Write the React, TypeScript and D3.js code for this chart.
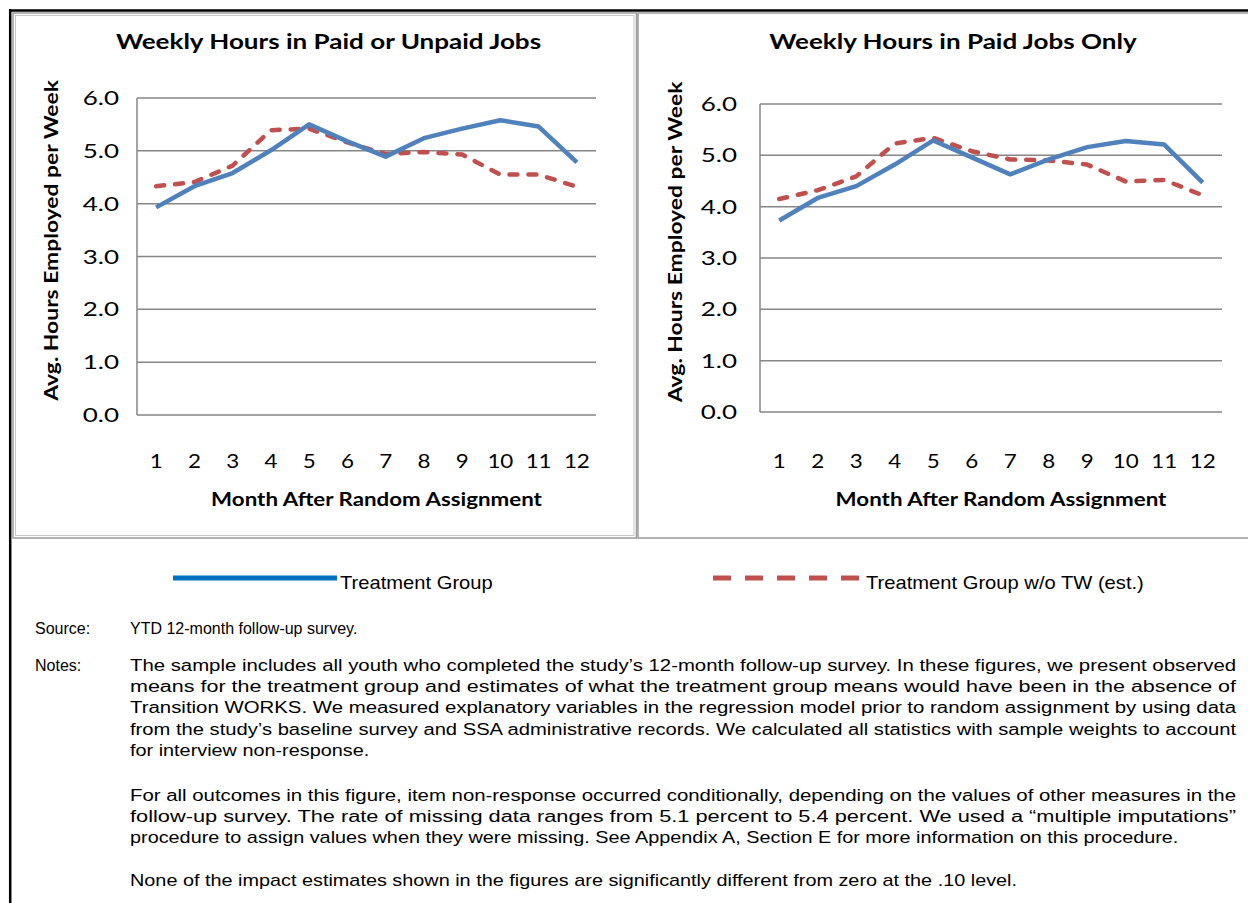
import * as d3 from "d3";
import type { ReactNode } from "react";

const months = ["1", "2", "3", "4", "5", "6", "7", "8", "9", "10", "11", "12"];
const yTicks = [0, 1, 2, 3, 4, 5, 6];

// Weekly hours in paid or unpaid jobs
const anyJobTreatment = [3.93, 4.33, 4.58, 5.01, 5.5, 5.18, 4.89, 5.24, 5.42, 5.58, 5.46, 4.78];
const anyJobNoTW = [4.33, 4.41, 4.72, 5.39, 5.42, 5.16, 4.94, 4.98, 4.93, 4.55, 4.55, 4.32];

// Weekly hours in paid jobs only
const paidJobTreatment = [3.73, 4.17, 4.4, 4.82, 5.29, 4.96, 4.63, 4.92, 5.16, 5.28, 5.21, 4.47];
const paidJobNoTW = [4.15, 4.32, 4.59, 5.23, 5.34, 5.08, 4.92, 4.9, 4.82, 4.49, 4.52, 4.22];

const seriesNames = ["Treatment Group", "Treatment Group w/o TW (est.)"];

const notesPara1 = [
  { text: "The sample includes all youth who completed the study\u2019s 12-month follow-up survey. In these figures, we present observed", justify: true },
  { text: "means for the treatment group and estimates of what the treatment group means would have been in the absence of", justify: true },
  { text: "Transition WORKS. We measured explanatory variables in the regression model prior to random assignment by using data", justify: true },
  { text: "from the study\u2019s baseline survey and SSA administrative records. We calculated all statistics with sample weights to account", justify: true },
  { text: "for interview non-response.", justify: false },
];
const notesPara2 = [
  { text: "For all outcomes in this figure, item non-response occurred conditionally, depending on the values of other measures in the", justify: true },
  { text: "follow-up survey. The rate of missing data ranges from 5.1 percent to 5.4 percent. We used a \u201cmultiple imputations\u201d", justify: true },
  { text: "procedure to assign values when they were missing. See Appendix A, Section E for more information on this procedure.", justify: false },
];
const notesPara3 = [
  { text: "None of the impact estimates shown in the figures are significantly different from zero at the .10 level.", justify: false },
];

const chartFont = "Lato, 'Open Sans', sans-serif";
const textFont = "'Liberation Sans', Arial, sans-serif";
const blue = "#4F81BD";
const red = "#C0504D";
const grid = "#868686";
const stretch = 1.24; // the source figure is drawn wider than tall

// text squeezed / widened horizontally around its anchor
function SText({
  x,
  y,
  sx = stretch,
  rotate = 0,
  anchor = "start",
  size,
  bold = false,
  font = chartFont,
  children,
}: {
  x: number;
  y: number;
  sx?: number;
  rotate?: number;
  anchor?: "start" | "middle" | "end";
  size: number;
  bold?: boolean;
  font?: string;
  children: ReactNode;
}) {
  return (
    <text
      transform={`translate(${x},${y}) rotate(${rotate}) scale(${sx},1)`}
      dy="0.35em"
      textAnchor={anchor}
      fontFamily={font}
      fontSize={size}
      fontWeight={bold ? "bold" : "normal"}
    >
      {children}
    </text>
  );
}

interface PanelProps {
  title: string;
  treatment: number[];
  noTW: number[];
  left: number;
  right: number;
  top: number;
  bottom: number;
  yLabelX: number;
  tickGap: number;
}

function Panel({ title, treatment, noTW, left, right, top, bottom, yLabelX, tickGap }: PanelProps) {
  const x = d3.scaleBand<string>().domain(months).range([left, right]);
  const y = d3.scaleLinear().domain([0, 6]).range([bottom, top]);
  const cx = (i: number) => (x(months[i]) ?? 0) + x.bandwidth() / 2;
  const line = d3
    .line<number>()
    .x((d, i) => cx(i))
    .y((d) => y(d));
  const mid = (left + right) / 2;

  return (
    <g>
      <SText x={mid - 38} y={42} anchor="middle" size={21} bold>
        {title}
      </SText>

      {yTicks.map((t) => (
        <g key={t}>
          <line x1={left} x2={right} y1={y(t)} y2={y(t)} stroke={grid} strokeWidth={1.5} />
          <SText x={left - tickGap} y={y(t)} anchor="end" size={20} sx={1.3}>
            {d3.format(".1f")(t)}
          </SText>
        </g>
      ))}
      <line x1={left} x2={left} y1={top} y2={bottom} stroke={grid} strokeWidth={1.5} />

      {months.map((m, i) => (
        <SText key={m} x={cx(i)} y={461} anchor="middle" size={20} sx={1.12}>
          {m}
        </SText>
      ))}

      <SText x={mid + 10} y={500} anchor="middle" size={18} bold>
        Month After Random Assignment
      </SText>
      <SText x={yLabelX} y={(top + bottom) / 2 - 16} rotate={-90} anchor="middle" size={18} sx={1.27} bold>
        Avg. Hours Employed per Week
      </SText>

      <path
        d={line(noTW) ?? ""}
        fill="none"
        stroke={red}
        strokeWidth={4.5}
        strokeDasharray="8,11"
        strokeLinecap="round"
        strokeLinejoin="round"
      />
      <path d={line(treatment) ?? ""} fill="none" stroke={blue} strokeWidth={4.5} strokeLinejoin="round" />
    </g>
  );
}

export default function App() {
  const W = 1248;
  const H = 903;
  const textX = 130;
  const textRight = 1236;
  const lh = 21.3;

  const paragraph = (lines: { text: string; justify: boolean }[], y0: number) =>
    lines.map((l, i) =>
      l.justify ? (
        <text
          key={i}
          x={textX}
          y={y0 + i * lh}
          dy="0.35em"
          textLength={textRight - textX}
          lengthAdjust="spacingAndGlyphs"
          fontFamily={textFont}
          fontSize={16}
        >
          {l.text}
        </text>
      ) : (
        <SText key={i} x={textX} y={y0 + i * lh} size={16} font={textFont}>
          {l.text}
        </SText>
      )
    );

  return (
    <svg width={W} height={H} style={{ position: "absolute", left: 0, top: 0, background: "#fff" }}>
      <rect width={W} height={H} fill="#fff" />

      {/* frames */}
      <line x1={9} x2={W} y1={10.5} y2={10.5} stroke="#000" strokeWidth={2.5} />
      <line x1={10.2} x2={10.2} y1={9} y2={H} stroke="#000" strokeWidth={2.5} />
      <rect x={13} y={13} width={623.5} height={525} fill="none" stroke="#9a9a9a" strokeWidth={1.5} />
      <rect x={15.5} y={15.5} width={618.5} height={520} fill="none" stroke="#c8c8c8" strokeWidth={1} />
      <rect x={638} y={13} width={640} height={525} fill="none" stroke="#9a9a9a" strokeWidth={1.5} />

      <Panel
        title="Weekly Hours in Paid or Unpaid Jobs"
        treatment={anyJobTreatment}
        noTW={anyJobNoTW}
        left={137}
        right={596}
        top={98}
        bottom={415}
        yLabelX={52}
        tickGap={18}
      />
      <Panel
        title="Weekly Hours in Paid Jobs Only"
        treatment={paidJobTreatment}
        noTW={paidJobNoTW}
        left={760}
        right={1222}
        top={104}
        bottom={412}
        yLabelX={676}
        tickGap={23}
      />

      {/* legend */}
      <line x1={173} x2={337} y1={578} y2={578} stroke="#0070C0" strokeWidth={5} />
      <SText x={340} y={583} size={18} sx={1.12} font={textFont}>
        {seriesNames[0]}
      </SText>
      <line x1={713} x2={862} y1={578} y2={578} stroke={red} strokeWidth={5} strokeDasharray="18,14" />
      <SText x={866} y={583} size={18} sx={1.12} font={textFont}>
        {seriesNames[1]}
      </SText>

      {/* source and notes */}
      <g fontFamily={textFont} fontSize={16}>
        <text x={35} y={628} dy="0.35em">Source:</text>
        <text x={textX} y={628} dy="0.35em">YTD 12-month follow-up survey.</text>
        <text x={35} y={665} dy="0.35em">Notes:</text>
      </g>
      {paragraph(notesPara1, 665)}
      {paragraph(notesPara2, 795)}
      {paragraph(notesPara3, 880)}
    </svg>
  );
}
